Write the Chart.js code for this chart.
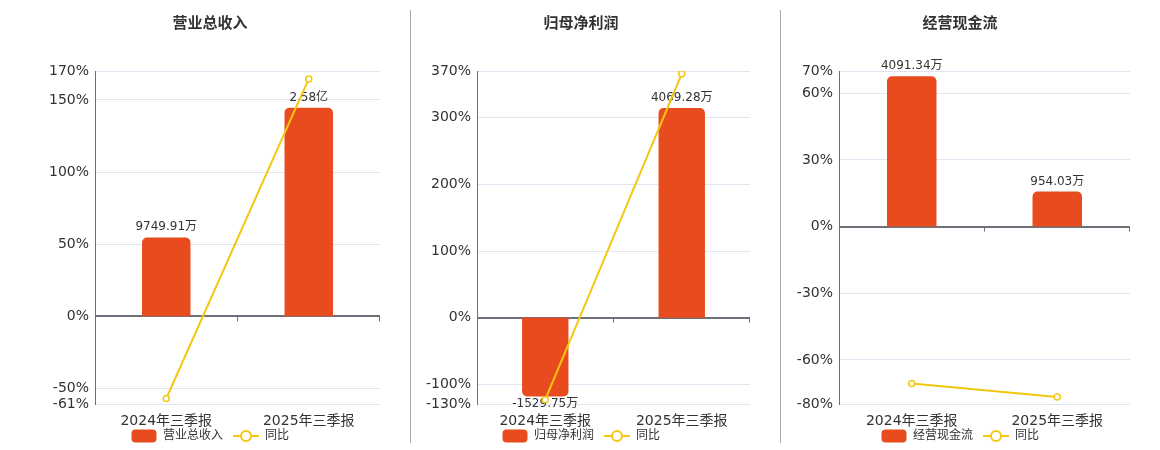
<!DOCTYPE html>
<html><head><meta charset="utf-8">
<script src="https://cdn.jsdelivr.net/npm/chart.js@4/dist/chart.umd.min.js"></script>
<style>
html,body{margin:0;padding:0;background:#fff;}
#wrap{position:relative;width:1160px;height:450px;overflow:hidden;background:#fff;}
.panel{position:absolute;top:0;height:450px;}
.sep{position:absolute;top:10px;height:433px;width:1px;background:#aaa;}
</style></head><body>
<div id="wrap">
<div class="sep" style="left:410px"></div>
<div class="sep" style="left:780px"></div>
<div class="panel" style="left:40px;width:340px"><canvas id="c0"></canvas></div>
<div class="panel" style="left:412px;width:338px"><canvas id="c1"></canvas></div>
<div class="panel" style="left:790px;width:340px"><canvas id="c2"></canvas></div>
</div>
<script>
const categories = ['2024年三季报', '2025年三季报'];
const panelTitles = ['营业总收入', '归母净利润', '经营现金流'];
const yoyLabel = '同比';

const revenueValues = [9749.91, 25800];
const revenueLabels = ['9749.91万', '2.58亿'];
const revenueYoY = [-57.0, 164.6];
const revenueTicks = [-61, -50, 0, 50, 100, 150, 170];

const profitValues = [-1529.75, 4069.28];
const profitLabels = ['-1529.75万', '4069.28万'];
const profitYoY = [-123.0, 366.0];
const profitTicks = [-130, -100, 0, 100, 200, 300, 370];

const cashValues = [4091.34, 954.03];
const cashLabels = ['4091.34万', '954.03万'];
const cashYoY = [-70.6, -76.7];
const cashTicks = [-80, -60, -30, 0, 30, 60, 70];

// value (万) of the hidden bar axis at the top of each percentage axis
const barAxisTop = [30330, 4785, 4230];

const BAR = '#e84c1e';
const LINE = '#f4c70f';
const AXIS = '#6e7079';
const GRID = '#e0e6f1';
const TXT = '#333';

Chart.defaults.font.family = '"DejaVu Sans","Noto Sans CJK SC",sans-serif';

function makeIcon(kind) {
  const c = document.createElement('canvas');
  c.width = 26; c.height = 14;
  const g = c.getContext('2d');
  if (kind === 'bar') {
    g.fillStyle = BAR;
    g.beginPath();
    g.roundRect(0.5, 0.5, 25, 13, 4);
    g.fill();
  } else {
    g.strokeStyle = LINE; g.lineWidth = 2;
    g.beginPath(); g.moveTo(0, 7); g.lineTo(26, 7); g.stroke();
    g.fillStyle = '#fff';
    g.beginPath(); g.arc(13, 7, 5, 0, Math.PI * 2); g.fill(); g.stroke();
  }
  return c;
}
const legendIcons = [makeIcon('bar'), makeIcon('line')];

const zeroAxisPlugin = {
  id: 'zeroAxis',
  afterDatasetsDraw(chart) {
    const xs = chart.scales.x, ys = chart.scales.y;
    const y0 = ys.getPixelForValue(0);
    const n = chart.data.labels.length;
    const g = chart.ctx;
    g.save();
    g.strokeStyle = AXIS; g.lineWidth = 1;
    for (let i = 1; i <= n; i++) {
      const x = Math.round(xs.left + (xs.right - xs.left) * i / n) - 0.5;
      g.beginPath(); g.moveTo(x, y0); g.lineTo(x, y0 + 5); g.stroke();
    }
    g.restore();
  }
};

const barLabelPlugin = {
  id: 'barLabels',
  afterDatasetDraw(chart, args) {
    if (args.index !== 0) return;
    const meta = chart.getDatasetMeta(0);
    const texts = chart.options.plugins.barLabels.texts;
    const vals = chart.data.datasets[0].data;
    const g = chart.ctx;
    g.save();
    g.fillStyle = TXT;
    g.font = '12px "DejaVu Sans","Noto Sans CJK SC",sans-serif';
    g.textAlign = 'center';
    g.textBaseline = 'alphabetic';
    meta.data.forEach((el, i) => {
      if (vals[i] >= 0) g.fillText(texts[i], el.x, el.y - 7);
      else g.fillText(texts[i], el.x, el.y + 10.5);
    });
    g.restore();
  }
};

const panels = [
  {title: panelTitles[0], values: revenueValues, labels: revenueLabels, yoy: revenueYoY, ticks: revenueTicks, barTop: barAxisTop[0]},
  {title: panelTitles[1], values: profitValues, labels: profitLabels, yoy: profitYoY, ticks: profitTicks, barTop: barAxisTop[1]},
  {title: panelTitles[2], values: cashValues, labels: cashLabels, yoy: cashYoY, ticks: cashTicks, barTop: barAxisTop[2]}
];
const axisWidths = [55, 65, 49];

panels.forEach((p, k) => {
  const tMin = p.ticks[0], tMax = p.ticks[p.ticks.length - 1];
  new Chart(document.getElementById('c' + k), {
    data: {
      labels: categories,
      datasets: [
        {type: 'bar', label: p.title, data: p.values, yAxisID: 'yb', backgroundColor: BAR,
         borderRadius: 5, borderSkipped: 'start', barPercentage: 0.34, categoryPercentage: 1, order: 2},
        {type: 'line', label: yoyLabel, data: p.yoy, yAxisID: 'y', borderColor: LINE, borderWidth: 2,
         pointRadius: 3, pointBorderWidth: 1.5, pointBackgroundColor: '#fff', pointBorderColor: LINE,
         tension: 0, order: 1}
      ]
    },
    options: {
      responsive: true, maintainAspectRatio: false, animation: false,
      layout: {autoPadding: false, padding: {left: 0, right: 0, top: 0, bottom: -2}},
      scales: {
        x: {grid: {display: false, drawTicks: false}, border: {display: false},
            afterFit: s => { s.height = 15.7; s._computeLabelArea = () => undefined; },
            ticks: {color: TXT, font: {size: 14}, padding: 8.5}},
        y: {position: 'left', min: tMin, max: tMax,
            afterBuildTicks: s => { s.ticks = p.ticks.map(v => ({value: v})); },
            afterFit: s => { s.width = axisWidths[k]; },
            ticks: {autoSkip: false, color: TXT, font: {size: 14}, padding: 6, callback: v => v + '%'},
            grid: {drawTicks: false,
                   color: c => (c.tick && c.tick.value === 0) ? AXIS : GRID,
                   lineWidth: c => (c.tick && c.tick.value === 0) ? 2 : 1},
            border: {color: AXIS, width: 1}},
        yb: {display: false, min: p.barTop * tMin / tMax, max: p.barTop}
      },
      plugins: {
        title: {display: true, text: p.title, color: TXT, font: {size: 15, weight: 'bold'},
                padding: {top: 15.5, bottom: 37.6}},
        legend: {position: 'bottom',
                 labels: {usePointStyle: true, pointStyleWidth: 26, boxHeight: 13, padding: 10,
                          color: TXT, font: {size: 12},
                          sort: (a, b) => a.datasetIndex - b.datasetIndex,
                          generateLabels: chart => {
                            const items = Chart.defaults.plugins.legend.labels.generateLabels(chart);
                            items.forEach(it => { it.pointStyle = legendIcons[it.datasetIndex]; it.fontColor = TXT; });
                            return items;
                          }}},
        tooltip: {enabled: false},
        barLabels: {texts: p.labels}
      }
    },
    plugins: [zeroAxisPlugin, barLabelPlugin]
  });
});
</script>
</body></html>
